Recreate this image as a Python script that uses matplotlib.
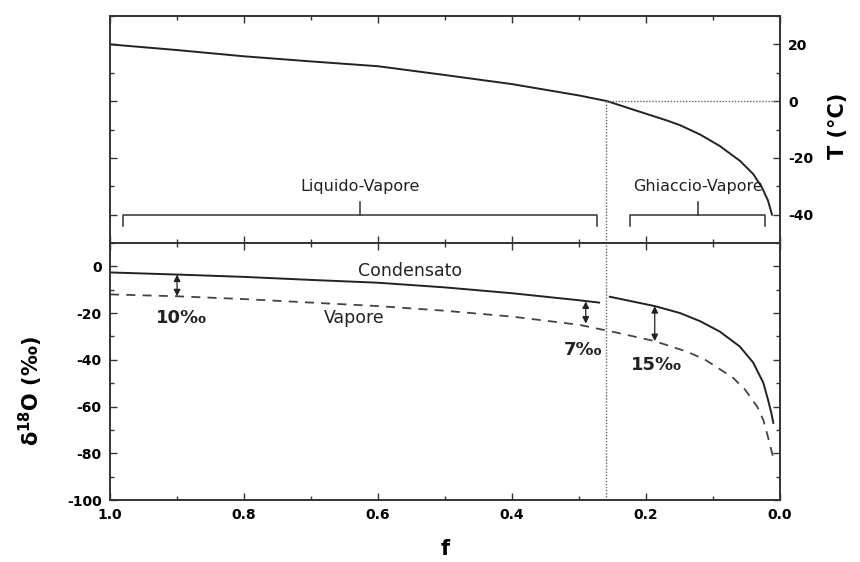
"""
Rayleigh distillation: temperature and delta-18O of condensate and vapour
versus residual vapour fraction f.
"""

import matplotlib
matplotlib.use("Agg")
import matplotlib.pyplot as plt
from matplotlib.ticker import MultipleLocator

plt.rcParams["font.family"] = ["DejaVu Sans"]
plt.rcParams["axes.unicode_minus"] = False
plt.rcParams["mathtext.default"] = "bf"

# Temperature of the air mass (°C) vs residual fraction f
f_temp = [1.0, 0.9, 0.8, 0.7, 0.6, 0.5, 0.4, 0.3, 0.258, 0.219, 0.169,
          0.149, 0.119, 0.09, 0.06, 0.04, 0.027, 0.018, 0.012]
temp = [20, 18, 15.8, 14, 12.3, 9.2, 6, 2, 0, -3, -6.8,
        -8.5, -11.8, -15.8, -21, -25.7, -30.4, -35, -40]

# Condensate: liquid branch and ice branch
f_liq = [1.0, 0.9, 0.8, 0.7, 0.6, 0.5, 0.4, 0.3, 0.27]
cond_liq = [-2.6, -3.5, -4.5, -5.8, -7, -9, -11.5, -14.5, -15.5]
f_ice = [0.254, 0.187, 0.149, 0.119, 0.09, 0.06, 0.04, 0.025, 0.018,
         0.013, 0.01]
cond_ice = [-13, -17, -20, -23.5, -27.9, -34.3, -41.2, -49.8, -57,
            -62.7, -67]

# Vapour
f_vap = [1.0, 0.9, 0.8, 0.7, 0.6, 0.5, 0.4, 0.3, 0.243, 0.187, 0.139,
         0.112, 0.093, 0.07, 0.052, 0.034, 0.025, 0.018, 0.012, 0.009]
vapour = [-12, -12.8, -14, -15.5, -17, -19, -21.5, -25, -28.4, -32, -36.5,
          -39.9, -43.4, -47.7, -52.8, -60.1, -65.7, -73, -79.8, -82.8]

f_freeze = 0.26

# Fractionation gaps between condensate and vapour
gap_f = [0.9, 0.29, 0.187]
gap_top = [-3.5, -15.0, -17.0]
gap_bottom = [-12.8, -24.5, -32.0]
gap_label = ["10‰", "7‰", "15‰"]
gap_text_x = [0.893, 0.294, 0.185]
gap_text_y = [-22, -36, -42]

# Phase brackets
phase_start = [0.98, 0.224]
phase_end = [0.273, 0.022]
phase_label = ["Liquido-Vapore", "Ghiaccio-Vapore"]

fig = plt.figure(figsize=(8.6, 5.62), dpi=100)
ax_t = fig.add_axes([0.128, 0.5676, 0.779, 0.4039])
ax_d = fig.add_axes([0.128, 0.1103, 0.779, 0.4573], sharex=ax_t)

for ax in (ax_t, ax_d):
    for s in ax.spines.values():
        s.set_linewidth(1.4)
        s.set_color("#333333")
    ax.tick_params(which="both", direction="in", top=True, right=True,
                   width=1.0, color="#333333", pad=6)
    ax.tick_params(which="major", length=5)
    ax.tick_params(which="minor", length=3)
    ax.xaxis.set_major_locator(MultipleLocator(0.2))
    ax.xaxis.set_minor_locator(MultipleLocator(0.1))

# --- top panel: temperature ---
ax_t.plot(f_temp, temp, color="#222222", lw=1.4)
ax_t.plot([f_freeze, 0.0], [0, 0], color="#666666", lw=1.0, ls=(0, (1, 1.2)))
ax_t.set_ylim(-50, 30)
ax_t.yaxis.set_major_locator(MultipleLocator(20))
ax_t.yaxis.set_minor_locator(MultipleLocator(10))
ax_t.tick_params(axis="y", labelleft=False, labelright=True)
ax_t.tick_params(axis="x", labelbottom=False)
for lab in ax_t.get_yticklabels():
    lab.set_fontsize(10)
    lab.set_fontweight("bold")
ax_t.yaxis.set_label_position("right")
ax_t.set_ylabel("T (°C)", fontsize=15, fontweight="bold")
ax_t.yaxis.set_label_coords(1.072, 0.515)

for x0, x1, label in zip(phase_start, phase_end, phase_label):
    xm = (x0 + x1) / 2
    ax_t.plot([x0, x0, x1, x1], [-44, -40, -40, -44], color="#333333", lw=1.1)
    ax_t.plot([xm, xm], [-40, -35.5], color="#333333", lw=1.1)
    ax_t.text(xm, -30, label, ha="center", va="center", fontsize=11.5,
              color="#222222")

# --- bottom panel: delta-18O ---
ax_d.plot(f_liq, cond_liq, color="#222222", lw=1.4)
ax_d.plot(f_ice, cond_ice, color="#222222", lw=1.4)
ax_d.plot(f_vap, vapour, color="#444444", lw=1.3, ls=(0, (5, 4)))
ax_d.set_ylim(-100, 10)
ax_d.yaxis.set_major_locator(MultipleLocator(20))
ax_d.yaxis.set_minor_locator(MultipleLocator(10))
ax_d.set_xlim(1.0, 0.0)
ax_d.tick_params(axis="y", labelleft=True, labelright=False)
for lab in ax_d.get_xticklabels() + ax_d.get_yticklabels():
    lab.set_fontsize(10)
    lab.set_fontweight("bold")
ax_d.set_ylabel(r"δ$^{18}$O (‰)", fontsize=15, fontweight="bold")
ax_d.yaxis.set_label_coords(-0.097, 0.424)
ax_d.set_xlabel("f", fontsize=15, fontweight="bold", labelpad=12)

# vertical dotted line at the freezing point, through both panels
ax_t.plot([f_freeze, f_freeze], [-50, 0], color="#666666", lw=1.0,
          ls=(0, (1, 1.2)))
ax_d.plot([f_freeze, f_freeze], [-100, 10], color="#666666", lw=1.0,
          ls=(0, (1, 1.2)))

for x, y0, y1 in zip(gap_f, gap_top, gap_bottom):
    ax_d.annotate("", xy=(x, y0), xytext=(x, y1),
                  arrowprops=dict(arrowstyle="<|-|>", color="#222222", lw=0.9,
                                  mutation_scale=10, shrinkA=0, shrinkB=0))

for x, y, label in zip(gap_text_x, gap_text_y, gap_label):
    ax_d.text(x, y, label, ha="center", va="center", fontsize=13,
              fontweight="bold", color="#222222")

ax_d.text(0.552, -2, "Condensato", ha="center", va="center", fontsize=12.5,
          color="#222222")
ax_d.text(0.636, -22, "Vapore", ha="center", va="center", fontsize=12.5,
          color="#222222")

plt.savefig("out.png", dpi=100)
plt.close()
